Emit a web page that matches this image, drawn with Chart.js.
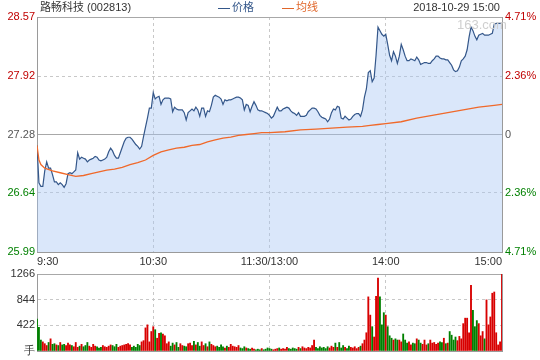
<!DOCTYPE html>
<html><head><meta charset="utf-8">
<script src="https://cdn.jsdelivr.net/npm/chart.js@4.4.0/dist/chart.umd.min.js"></script>
<style>
html,body{margin:0;padding:0;background:#fff;}
#wrap{position:relative;width:540px;height:360px;overflow:hidden;font-family:"Liberation Sans","Noto Sans CJK SC",sans-serif;font-size:11px;color:#333;}
#c1{position:absolute;left:0;top:0;}
#c2{position:absolute;left:0;top:262px;}
.t{position:absolute;white-space:nowrap;line-height:13px;}
.ln{display:inline-block;width:12px;height:0;vertical-align:middle;margin-right:2px;}
</style></head><body>
<div id="wrap">
<canvas id="c1" width="540" height="270"></canvas>
<canvas id="c2" width="540" height="98"></canvas>
<div class="t" style="left:457px;top:18px;color:#cfcfcf;font-size:13px;">163.com</div>
<div class="t" style="left:40px;top:1px;color:#333;">路畅科技 (002813)</div>
<div class="t" style="left:218px;top:1px;color:#34578a;"><span class="ln" style="border-top:1px solid #34578a;"></span>价格</div>
<div class="t" style="left:282px;top:1px;color:#e0662a;"><span class="ln" style="border-top:1px solid #e0662a;"></span>均线</div>
<div class="t" style="right:40px;top:1px;color:#333;">2018-10-29 15:00</div>
</div>
<script>
const prevClose = 27.28;
const yTicks = [25.99, 26.64, 27.28, 27.92, 28.57];
const pctLabels = ['4.71%', '2.36%', '0', '2.36%', '4.71%'];
const xTickIdx = [0, 60, 120, 180, 240];
const xTickLabels = ['9:30', '10:30', '11:30/13:00', '14:00', '15:00'];
const volTicks = [0, 422, 844, 1266];
const volTickLabels = ['手', '422', '844', '1266'];

const prices = [
27.16,26.75,26.71,26.71,26.88,26.98,26.91,26.91,26.84,26.76,
26.76,26.73,26.75,26.73,26.70,26.74,26.85,26.86,26.85,26.87,
26.89,27.08,27.01,27.03,27.02,27.01,26.98,27.00,27.01,27.02,
27.04,27.03,27.00,26.99,27.00,27.01,27.03,27.09,27.13,27.10,
27.05,27.02,27.02,27.08,27.14,27.20,27.24,27.25,27.25,27.23,
27.20,27.17,27.15,27.12,27.15,27.26,27.36,27.46,27.57,27.57,
27.74,27.67,27.69,27.70,27.61,27.66,27.68,27.68,27.68,27.67,
27.53,27.58,27.56,27.55,27.55,27.55,27.52,27.44,27.52,27.54,
27.56,27.54,27.58,27.55,27.48,27.57,27.57,27.48,27.54,27.53,
27.60,27.69,27.71,27.70,27.69,27.67,27.61,27.66,27.65,27.66,
27.66,27.67,27.68,27.69,27.69,27.68,27.66,27.55,27.61,27.60,
27.53,27.59,27.64,27.60,27.55,27.54,27.54,27.53,27.52,27.51,
27.49,27.46,27.48,27.53,27.58,27.54,27.54,27.56,27.57,27.58,
27.57,27.54,27.52,27.51,27.49,27.52,27.48,27.48,27.48,27.49,
27.53,27.55,27.57,27.57,27.56,27.53,27.49,27.47,27.46,27.45,
27.42,27.45,27.52,27.56,27.55,27.59,27.58,27.46,27.45,27.48,
27.46,27.44,27.45,27.48,27.50,27.51,27.51,27.48,27.55,27.69,
27.78,27.96,27.98,27.86,27.90,28.15,28.46,28.42,28.38,28.36,
28.38,28.27,28.15,28.09,28.19,28.14,28.06,28.14,28.27,28.21,
28.14,28.09,28.09,28.11,28.10,28.09,28.13,28.10,28.05,28.06,
28.07,28.07,28.06,28.06,28.09,28.11,28.14,28.14,28.12,28.11,
28.11,28.10,28.10,28.07,28.04,27.99,27.97,27.98,28.02,28.09,
28.11,28.14,28.21,28.35,28.46,28.42,28.36,28.32,28.37,28.38,
28.39,28.37,28.37,28.37,28.38,28.39,28.49,28.50,28.50,28.50,
28.50];

const avgMinutes = [0,1,2,4,8,12,16,20,24,28,32,36,40,44,48,52,56,60,64,68,72,76,80,84,88,92,96,100,104,108,112,116,120,128,136,144,152,160,168,172,176,180,188,196,204,212,220,228,236,240];
const avgValues = [27.16,27.00,26.95,26.91,26.88,26.86,26.84,26.82,26.83,26.85,26.87,26.89,26.90,26.92,26.95,26.97,27.00,27.05,27.09,27.11,27.13,27.14,27.16,27.17,27.20,27.22,27.24,27.25,27.27,27.28,27.29,27.30,27.30,27.31,27.33,27.34,27.35,27.36,27.37,27.38,27.39,27.40,27.42,27.46,27.49,27.52,27.55,27.58,27.60,27.61];

const volumes = [
525,390,180,150,120,90,140,200,110,120,
100,90,140,100,110,90,130,100,90,70,
140,60,80,110,70,90,140,80,60,110,
80,70,50,60,90,70,60,80,100,90,
70,110,60,80,90,100,110,120,100,60,
80,60,110,90,150,170,380,430,150,320,
400,350,210,290,300,280,250,120,150,80,
130,100,140,60,120,90,80,70,120,130,
90,160,100,140,80,150,90,120,70,150,
110,90,70,80,60,100,70,50,80,60,
110,80,70,60,90,50,40,70,50,40,
30,50,30,20,30,20,40,20,30,50,
40,30,20,30,40,50,30,40,30,60,
40,30,50,40,30,60,40,70,50,40,
60,50,90,180,60,40,70,50,60,40,
70,50,80,60,130,60,140,50,90,60,
40,80,60,50,70,40,60,80,120,180,
300,890,590,400,230,900,1200,890,430,630,
590,400,250,210,180,200,180,180,150,280,
180,130,150,100,130,120,200,180,130,110,
180,100,120,180,130,140,110,130,150,140,
210,120,130,320,260,180,230,170,240,200,
450,540,540,300,1080,670,400,500,450,250,
320,200,840,430,560,950,970,300,100,150,
1266];

const RED = '#d80000', GREEN = '#008000', GRAY = '#555';
const tickColor = i => i < 2 ? GREEN : (i === 2 ? GRAY : '#c00000');
const fontSpec = {family: '"Liberation Sans", Arial, sans-serif', size: 11};
const clear = 'rgba(0,0,0,0)';
const volColors = volumes.map((v, i) => prices[i] >= (i ? prices[i - 1] : prevClose) ? RED : GREEN);

new Chart(document.getElementById('c1'), {
  type: 'line',
  data: { datasets: [
    { label: '均线', data: avgMinutes.map((m, k) => ({x: m, y: avgValues[k]})),
      borderColor: '#f0692a', borderWidth: 1.3, pointRadius: 0, fill: false, tension: 0 },
    { label: '价格', data: prices.map((p, i) => ({x: i, y: p})),
      borderColor: '#34578a', borderWidth: 1.2, pointRadius: 0, fill: 'start',
      backgroundColor: 'rgba(168,198,242,0.42)', tension: 0 }
  ]},
  options: {
    responsive: false, animation: false, devicePixelRatio: 1,
    layout: { padding: { top: 17, left: 0, right: 0, bottom: 0 } },
    plugins: { legend: { display: false }, tooltip: { enabled: false } },
    scales: {
      x: { type: 'linear', min: 0, max: 240, offset: false,
        afterBuildTicks: s => { s.ticks = xTickIdx.map(v => ({value: v})); },
        afterFit: s => { s.height = 18; },
        grid: { drawTicks: false, color: c => (c.index > 0 && c.index < 4) ? '#c8c8c8' : clear },
        border: { display: true, color: '#9a9a9a', dash: c => c.tick ? [3, 3] : [] },
        ticks: { align: 'inner', padding: 3, color: '#333', font: fontSpec, maxRotation: 0, autoSkip: false,
          callback: (v, i) => xTickLabels[i] } },
      y: { position: 'left', min: 25.99, max: 28.57,
        afterBuildTicks: s => { s.ticks = yTicks.map(v => ({value: v})); },
        afterFit: s => { s.width = 37; },
        grid: { drawTicks: false, color: c => (c.index === 2 || c.index === 4) ? '#a8a8a8' : (c.index === 0 ? clear : '#c8c8c8') },
        border: { display: true, color: '#9a9a9a', dash: c => (c.tick && (c.index === 1 || c.index === 3)) ? [3, 3] : [] },
        ticks: { padding: 2, font: fontSpec, autoSkip: false, color: c => tickColor(c.index), callback: (v, i) => yTicks[i].toFixed(2) } },
      y1: { position: 'right', min: 25.99, max: 28.57,
        afterBuildTicks: s => { s.ticks = yTicks.map(v => ({value: v})); },
        afterFit: s => { s.width = 38; },
        grid: { drawOnChartArea: false, drawTicks: false },
        border: { display: true, color: '#9a9a9a' },
        ticks: { padding: 3, font: fontSpec, autoSkip: false, color: c => tickColor(c.index), callback: (v, i) => pctLabels[i] } }
    }
  }
});

new Chart(document.getElementById('c2'), {
  type: 'bar',
  data: { datasets: [{ data: volumes.map((v, i) => ({x: i, y: v})), backgroundColor: volColors, barThickness: 1.2, borderWidth: 0 }] },
  options: {
    responsive: false, animation: false, devicePixelRatio: 1,
    layout: { padding: { top: 12, left: 0, right: 0, bottom: 0 } },
    plugins: { legend: { display: false }, tooltip: { enabled: false } },
    scales: {
      x: { type: 'linear', min: 0, max: 240, offset: false,
        afterBuildTicks: s => { s.ticks = xTickIdx.map(v => ({value: v})); },
        afterFit: s => { s.height = 9; },
        grid: { offset: false, drawTicks: false, color: c => (c.index > 0 && c.index < 4) ? '#c8c8c8' : clear },
        border: { display: true, color: '#9a9a9a', dash: c => c.tick ? [3, 3] : [] },
        ticks: { display: false } },
      y: { position: 'left', min: 0, max: 1266,
        afterBuildTicks: s => { s.ticks = volTicks.map(v => ({value: v})); },
        afterFit: s => { s.width = 37; },
        grid: { drawTicks: false, color: c => c.index === 3 ? '#a8a8a8' : (c.index === 0 ? clear : '#c8c8c8') },
        border: { display: true, color: '#9a9a9a', dash: c => (c.tick && (c.index === 1 || c.index === 2)) ? [3, 3] : [] },
        ticks: { padding: 2, font: fontSpec, autoSkip: false, color: '#333', callback: (v, i) => volTickLabels[i] } },
      y1: { position: 'right', min: 0, max: 1266,
        afterFit: s => { s.width = 38; },
        grid: { drawOnChartArea: false, drawTicks: false },
        border: { display: true, color: '#9a9a9a' },
        ticks: { display: false } }
    }
  }
});
</script>
</body></html>
